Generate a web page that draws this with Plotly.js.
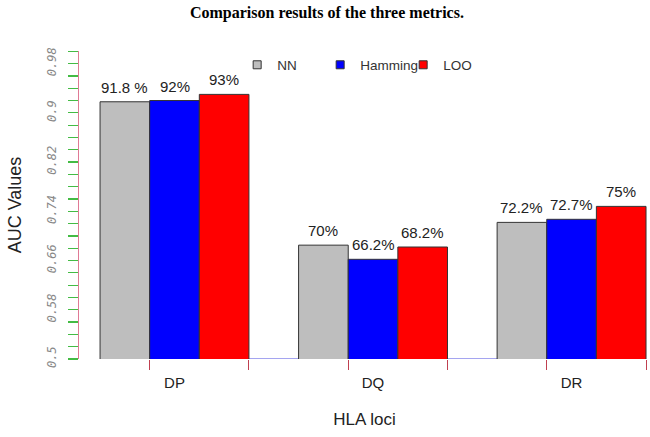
<!DOCTYPE html>
<html>
<head>
<meta charset="utf-8">
<script src="https://cdn.plot.ly/plotly-3.0.1.min.js"></script>
<style>html,body{margin:0;padding:0;background:#fff;}#chart{width:650px;height:437px;}</style>
</head>
<body>
<div id="chart"></div>
<script>
const categories = ['DP', 'DQ', 'DR'];
const seriesNames = ['NN', 'Hamming', 'LOO'];
const nnValues = [0.918, 0.685, 0.722];
const hammingValues = [0.920, 0.662, 0.727];
const looValues = [0.930, 0.682, 0.748];
const nnLabels = ['91.8 %', '70%', '72.2%'];
const hammingLabels = ['92%', '66.2%', '72.7%'];
const looLabels = ['93%', '68.2%', '75%'];
const yTickLabels = ['0.5', '0.58', '0.66', '0.74', '0.82', '0.9', '0.98'];
const colors = ['#bebebe', '#0000ff', '#ff0000'];

const values = [nnValues, hammingValues, looValues];
const labels = [nnLabels, hammingLabels, looLabels];
const bargap = 0.25;
const barW = (1 - bargap) / seriesNames.length;
const xRange = [-0.481, 2.395];

// y ticks: every 0.02 from 0.5 to 1.0, labelled every 0.08
const yTickVals = [], yTickText = [];
for (let k = 0; k <= 25; k++) {
  yTickVals.push(+(0.5 + 0.02 * k).toFixed(2));
  const idx = k / 4;
  yTickText.push(Number.isInteger(idx) && idx < yTickLabels.length ? yTickLabels[idx] : '');
}

const traces = [];
const annotations = [];
seriesNames.forEach((name, i) => {
  traces.push({
    type: 'bar', name: name, x: categories, y: values[i],
    marker: {color: colors[i], line: {color: '#333', width: 1}},
    showlegend: false, hoverinfo: 'skip'
  });
  categories.forEach((c, j) => {
    annotations.push({
      xref: 'x2', yref: 'y', x: j + (i - (seriesNames.length - 1) / 2) * barW, y: values[i][j],
      yanchor: 'bottom', yshift: 4, showarrow: false, text: labels[i][j],
      font: {family: 'Liberation Sans, Arial, sans-serif', size: 15, color: '#222'}
    });
  });
});
seriesNames.forEach((name, i) => {
  traces.push({
    type: 'scatter', mode: 'markers', name: name, x: [null], y: [null],
    marker: {symbol: 'square', size: 8, color: colors[i], line: {color: '#333', width: 1}},
    showlegend: true, hoverinfo: 'skip'
  });
});
const tickPos = [];
categories.forEach((c, i) => {
  tickPos.push(i - (1 - bargap) / 2 + barW);
  tickPos.push(i + (1 - bargap) / 2);
});
traces.push({type: 'scatter', x: [null], y: [null], xaxis: 'x2', showlegend: false, hoverinfo: 'skip'});

const layout = {
  width: 650, height: 437,
  margin: {l: 79, r: 0, t: 51, b: 78},
  paper_bgcolor: '#fff', plot_bgcolor: '#fff',
  barmode: 'group', bargap: bargap, bargroupgap: 0,
  title: {text: 'Comparison results of the three metrics.', x: 0.503, y: 0.971, yanchor: 'middle',
          font: {family: 'Liberation Serif, Times New Roman, serif', size: 16, color: '#000', weight: 'bold'}},
  xaxis: {
    type: 'category', range: xRange, showline: false, showgrid: false, zeroline: false,
    ticks: '', ticklabelstandoff: 13,
    tickfont: {family: 'Liberation Sans, Arial, sans-serif', size: 15, color: '#222'},
    title: {text: 'HLA loci', standoff: 23, font: {family: 'Liberation Sans, Arial, sans-serif', size: 17, color: '#222'}}
  },
  xaxis2: {
    overlaying: 'x', anchor: 'y', range: xRange, type: 'linear',
    tickmode: 'array', tickvals: tickPos, showticklabels: false,
    ticks: 'outside', ticklen: 10, tickwidth: 1, tickcolor: '#c04050',
    showline: false, showgrid: false, zeroline: false
  },
  yaxis: {
    range: [0.5, 1.0005], tickmode: 'array', tickvals: yTickVals, ticktext: yTickText,
    showline: true, linecolor: '#e07a95', linewidth: 1,
    showgrid: false, zeroline: false,
    ticks: 'outside', ticklen: 10, tickwidth: 1.2, tickcolor: '#44bb44',
    tickangle: -90, ticklabelstandoff: 7,
    tickfont: {family: 'DejaVu Sans Mono, monospace', size: 12, color: '#888', style: 'italic'},
    title: {text: 'AUC Values', standoff: 18, font: {family: 'Liberation Sans, Arial, sans-serif', size: 18, color: '#222'}}
  },
  legend: {
    orientation: 'h', x: 0.277, xanchor: 'left', y: 0.9545, yanchor: 'middle',
    entrywidth: 38, entrywidthmode: 'pixels', bgcolor: 'rgba(0,0,0,0)',
    font: {family: 'Liberation Sans, Arial, sans-serif', size: 13.5, color: '#333'}
  },
  annotations: annotations,
  shapes: [{
    type: 'line', xref: 'x2', yref: 'y', layer: 'below',
    x0: -(1 - bargap) / 2, x1: categories.length - 1 + (1 - bargap) / 2, y0: 0.5, y1: 0.5,
    line: {color: '#4a4ae0', width: 1}
  }]
};

Plotly.newPlot('chart', traces, layout, {displayModeBar: false, staticPlot: true});
</script>
</body>
</html>
